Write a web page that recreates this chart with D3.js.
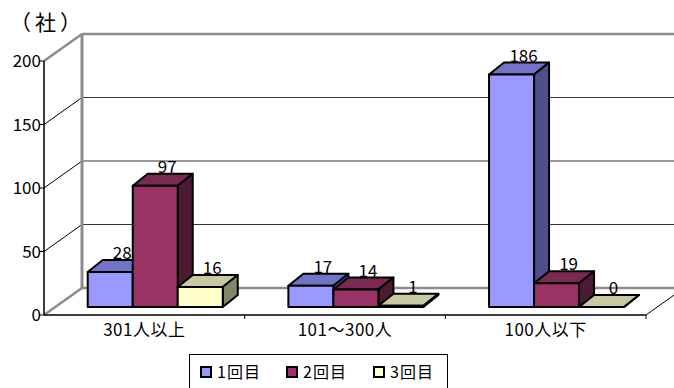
<!DOCTYPE html>
<html>
<head>
<meta charset="utf-8">
<script src="https://cdn.jsdelivr.net/npm/d3@7"></script>
<style>
  html, body { margin: 0; padding: 0; background: #fff; }
  svg { display: block; }
  text { font-family: "Noto Sans CJK JP", "DejaVu Sans", sans-serif; fill: #000; }
</style>
</head>
<body>
<svg id="chart" width="674" height="388"></svg>
<script>
// Company counts by size, per round
const categories = ["301人以上", "101～300人", "100人以下"];
const series = ["1回目", "2回目", "3回目"];
const round1 = [28, 17, 186];
const round2 = [97, 14, 19];
const round3 = [16, 1, 0];
const yTicks = [0, 50, 100, 150, 200];
const unitLabel = "（社）";

const values = [round1, round2, round3];
const faceColors = [
  { front: "#9999FF", top: "#7373C8", side: "#4F4F8A" },
  { front: "#993366", top: "#7A2952", side: "#4D1A33" },
  { front: "#FFFFCC", top: "#C8C8A2", side: "#85856A" }
];

const svg = d3.select("#chart");

// Front plane of the 3D box and its depth offset
const left = 44, right = 646;
const depthX = 38, depthY = -27;

const yAxis = d3.scaleLinear().domain([0, 200]).range([315, 61]);
// Bars stand a little behind the front plane
const barShiftX = 11;
const barBase = 307;
const yBar = d3.scaleLinear().domain([0, 200]).range([barBase, barBase - 250]);
const barDX = 15, barDY = -12;

const x0 = d3.scaleBand().domain(categories).range([left, right]);
const groupW = x0.bandwidth() * 0.673;
const groupOff = x0.bandwidth() * 0.163;
const x1 = d3.scaleBand().domain(series).range([0, groupW]);

const g = svg.append("g");

// Back wall gridlines and side wall lines
yTicks.forEach(t => {
  const yb = yAxis(t) + depthY;
  const edge = (t === 0 || t === 200);
  g.append("line")
    .attr("x1", left + depthX).attr("x2", right + depthX)
    .attr("y1", yb).attr("y2", yb)
    .attr("stroke", edge ? "#8c8c8c" : "#333")
    .attr("stroke-width", edge ? 2.5 : 1);
  g.append("line")
    .attr("x1", left).attr("y1", yAxis(t))
    .attr("x2", left + depthX).attr("y2", yb)
    .attr("stroke", edge ? "#8c8c8c" : "#000")
    .attr("stroke-width", edge ? 2.5 : 1);
});
// Back wall left edge
g.append("line")
  .attr("x1", left + depthX).attr("x2", left + depthX)
  .attr("y1", yAxis(200) + depthY).attr("y2", yAxis(0) + depthY)
  .attr("stroke", "#8c8c8c").attr("stroke-width", 3);

// Floor right edge
g.append("line")
  .attr("x1", right).attr("y1", yAxis(0))
  .attr("x2", right + depthX).attr("y2", yAxis(0) + depthY)
  .attr("stroke", "#000").attr("stroke-width", 1);

// Value axis
g.append("line")
  .attr("x1", left).attr("x2", left)
  .attr("y1", yAxis(200)).attr("y2", yAxis(0))
  .attr("stroke", "#000").attr("stroke-width", 1.5);
yTicks.forEach(t => {
  g.append("line")
    .attr("x1", left - 4).attr("x2", left)
    .attr("y1", yAxis(t)).attr("y2", yAxis(t))
    .attr("stroke", "#000").attr("stroke-width", 1);
  g.append("text")
    .attr("x", left - 3).attr("y", yAxis(t))
    .attr("dy", "0.36em")
    .attr("text-anchor", "end")
    .attr("font-size", 17)
    .text(t);
});

// Category axis
g.append("line")
  .attr("x1", left).attr("x2", right)
  .attr("y1", yAxis(0)).attr("y2", yAxis(0))
  .attr("stroke", "#000").attr("stroke-width", 1.5);
categories.forEach((c, i) => {
  const xe = x0(c) + x0.bandwidth();
  g.append("line")
    .attr("x1", xe).attr("x2", xe)
    .attr("y1", yAxis(0)).attr("y2", yAxis(0) + 4)
    .attr("stroke", "#000").attr("stroke-width", 1);
  g.append("text")
    .attr("x", x0(c) + x0.bandwidth() / 2)
    .attr("y", 330).attr("dy", "0.36em")
    .attr("text-anchor", "middle")
    .attr("font-size", 17)
    .attr("letter-spacing", 0.5)
    .text(c);
});

// Bars
const bw = x1.bandwidth();
const pts = a => a.map(p => p.join(",")).join(" ");
const labels = [];
categories.forEach((c, i) => {
  series.forEach((s, j) => {
    const v = values[j][i];
    const xl = x0(c) + barShiftX + groupOff + x1(s);
    const xr = xl + bw;
    const yt = yBar(v);
    const col = faceColors[j];
    const bar = g.append("g");
    bar.append("polygon")
      .attr("points", pts([[xl, yt], [xl + barDX, yt + barDY], [xr + barDX, yt + barDY], [xr, yt]]))
      .attr("fill", col.top);
    bar.append("polygon")
      .attr("points", pts([[xr, yt], [xr + barDX, yt + barDY], [xr + barDX, barBase + barDY], [xr, barBase]]))
      .attr("fill", col.side);
    if (v > 0) {
      bar.append("rect")
        .attr("x", xl).attr("y", yt)
        .attr("width", bw).attr("height", barBase - yt)
        .attr("fill", col.front);
    }
    bar.selectAll("polygon, rect")
      .attr("stroke", "#000").attr("stroke-width", 2)
      .attr("stroke-linejoin", "round");
    labels.push({ v, x: xl + bw / 2 + 12, y: yt + barDY - 7 });
  });
});

// Value labels
g.selectAll("text.val").data(labels).join("text")
  .attr("class", "val")
  .attr("x", d => d.x).attr("y", d => d.y)
  .attr("dy", "0.36em")
  .attr("text-anchor", "middle")
  .attr("font-size", 17)
  .text(d => d.v);

// Unit label
svg.append("text")
  .attr("x", 10).attr("y", 30)
  .attr("font-size", 21)
  .attr("letter-spacing", 4)
  .text(unitLabel);

// Legend
const lg = svg.append("g");
lg.append("rect")
  .attr("x", 189.5).attr("y", 354.5)
  .attr("width", 258).attr("height", 40)
  .attr("fill", "#fff").attr("stroke", "#000").attr("stroke-width", 1);
const legendX = [201, 287, 374];
series.forEach((s, j) => {
  lg.append("rect")
    .attr("x", legendX[j]).attr("y", 367)
    .attr("width", 10).attr("height", 10)
    .attr("fill", faceColors[j].front)
    .attr("stroke", "#000").attr("stroke-width", 2);
  lg.append("text")
    .attr("x", legendX[j] + 16).attr("y", 372)
    .attr("dy", "0.36em")
    .attr("font-size", 16)
    .attr("letter-spacing", 1)
    .text(s);
});
</script>
</body>
</html>
